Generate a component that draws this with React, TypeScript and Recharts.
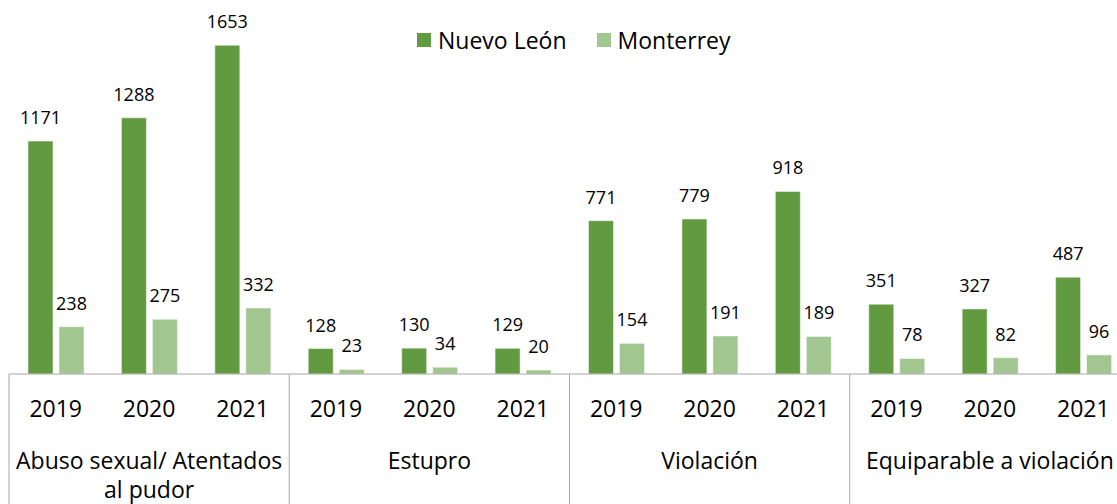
import { BarChart, Bar, XAxis, YAxis, LabelList } from "recharts";

const years = ["2019", "2020", "2021", "2019", "2020", "2021", "2019", "2020", "2021", "2019", "2020", "2021"];
const groups = [["Abuso sexual/ Atentados", "al pudor"], ["Estupro"], ["Violación"], ["Equiparable a violación"]];
const nuevoLeon = [1171, 1288, 1653, 128, 130, 129, 771, 779, 918, 351, 327, 487];
const monterrey = [238, 275, 332, 23, 34, 20, 154, 191, 189, 78, 82, 96];
const seriesNames = ["Nuevo León", "Monterrey"];

const data = years.map((year, i) => ({ year, nl: nuevoLeon[i], mty: monterrey[i] }));

const DARK = "#629a41";
const LIGHT = "#a1c68f";
const FONT = "'Open Sans', sans-serif";

const W = 1130;
const H = 504;
const LEFT = 9;
const TOP = 16;
const BASE = 374;
const CAT = (W - LEFT) / years.length;

function YearTick(props: any) {
  const { x, payload } = props;
  const i = payload.index;
  const left = x - CAT / 2;
  const g = Math.floor(i / 3);
  return (
    <g>
      {i % 3 === 0 && <line x1={left} y1={BASE} x2={left} y2={H} stroke="#a6a6a6" strokeWidth={1} />}
      <text x={x} y={417} textAnchor="middle" fontSize={23} fill="#000" fontFamily={FONT}>
        {payload.value}
      </text>
      {i % 3 === 1 &&
        groups[g].map((line, k) => (
          <text key={k} x={x} y={469 + k * 29} textAnchor="middle" fontSize={23} fill="#000" fontFamily={FONT}>
            {line}
          </text>
        ))}
    </g>
  );
}

function LegendBox() {
  const colors = [DARK, LIGHT];
  return (
    <div
      style={{
        position: "absolute",
        left: 417,
        top: 24,
        display: "flex",
        alignItems: "center",
        fontFamily: FONT,
        fontSize: 23,
        color: "#000",
      }}
    >
      {seriesNames.map((name, i) => (
        <div key={name} style={{ display: "flex", alignItems: "center", marginRight: 30 }}>
          <span style={{ width: 14, height: 14, background: colors[i], display: "inline-block", marginRight: 7 }} />
          <span>{name}</span>
        </div>
      ))}
    </div>
  );
}

export default function App() {
  return (
    <div style={{ position: "absolute", left: 0, top: 0, width: 1117, height: 504, overflow: "hidden", background: "#fff" }}>
      <BarChart
        width={W}
        height={H}
        data={data}
        margin={{ top: TOP, right: 0, left: LEFT, bottom: 0 }}
        barGap={6}
        barSize={25}
      >
        <XAxis
          dataKey="year"
          height={H - BASE}
          axisLine={{ stroke: "#a6a6a6" }}
          tickLine={false}
          tick={<YearTick />}
          interval={0}
        />
        <YAxis hide domain={[0, 1800]} />
        <Bar dataKey="nl" name={seriesNames[0]} fill={DARK} stroke="#ffffff" strokeWidth={0.5} isAnimationActive={false}>
          <LabelList dataKey="nl" position="top" offset={17} fontSize={18} fill="#000" fontFamily={FONT} />
        </Bar>
        <Bar dataKey="mty" name={seriesNames[1]} fill={LIGHT} stroke="#ffffff" strokeWidth={0.5} isAnimationActive={false}>
          <LabelList dataKey="mty" position="top" offset={17} fontSize={18} fill="#000" fontFamily={FONT} />
        </Bar>
      </BarChart>
      <LegendBox />
    </div>
  );
}
